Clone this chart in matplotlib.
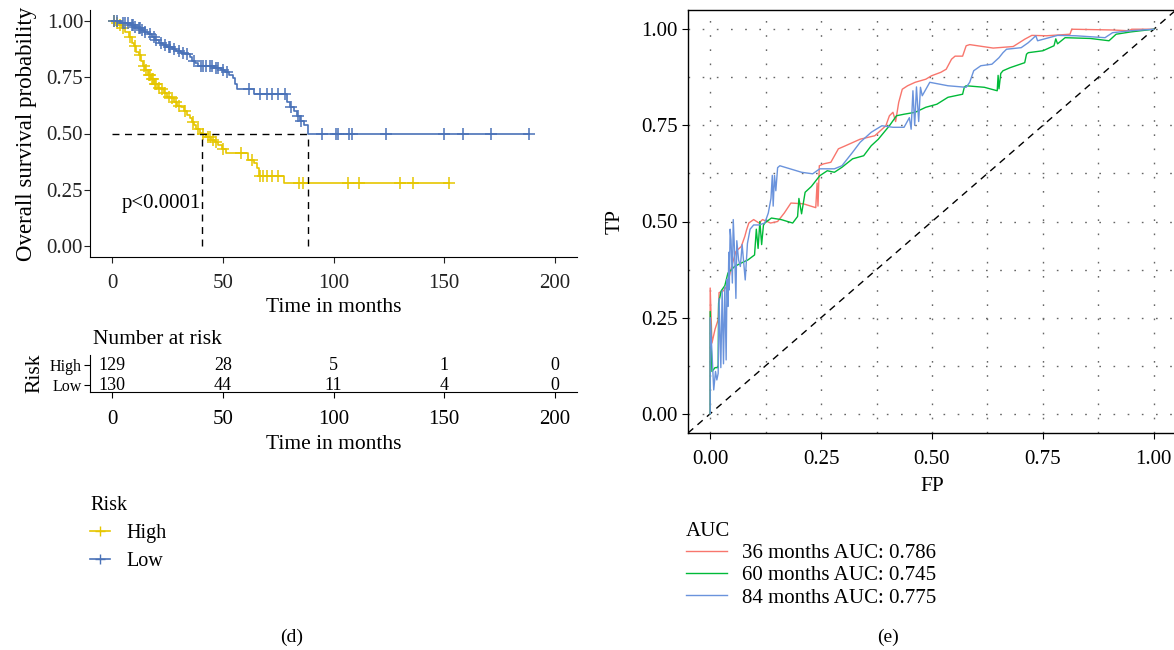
import numpy as np
import matplotlib
matplotlib.use('Agg')
import matplotlib.pyplot as plt
from matplotlib.lines import Line2D

plt.rcParams['font.family'] = ['Liberation Serif', 'DejaVu Serif']
plt.rcParams['font.size'] = 15

# Kaplan-Meier steps (months, survival) for each risk group
high_time = [0, 1.5, 3, 4.5, 6, 7.5, 9, 10, 11, 12, 13, 14, 15, 16, 17.5, 19, 20.5, 22, 23.5, 25,
             26.5, 28, 29.5, 31, 32.5, 34, 35, 36, 37, 38, 39.5, 40.5, 42.5, 44.5, 46.5, 48, 49.5,
             51.5, 61.5, 64, 65.5, 66.5, 77.5]
high_surv = [1.0, 0.992, 0.984, 0.968, 0.952, 0.928, 0.904, 0.888, 0.864, 0.848, 0.824, 0.800, 0.784,
             0.760, 0.744, 0.720, 0.704, 0.696, 0.680, 0.664, 0.656, 0.640, 0.624, 0.616, 0.600, 0.584,
             0.568, 0.552, 0.536, 0.520, 0.504, 0.496, 0.484, 0.472, 0.460, 0.448, 0.432, 0.412, 0.384,
             0.368, 0.345, 0.310, 0.278]
high_censor = [1, 2, 3.5, 5, 8, 10.5, 12.5, 14.5, 15.5, 16.5, 17, 18, 18.5, 19.5, 20, 21, 22.5, 24,
               25.5, 27, 29, 30, 33, 36.5, 39, 41, 43.5, 44, 45.5, 47, 50, 58, 63, 67, 68, 70, 72, 75,
               84.5, 86, 106.5, 111.5, 130, 136, 152]

low_time = [0, 4, 8.5, 10, 11.5, 13, 14.5, 16, 18, 19.5, 21, 23, 25, 27, 29, 31, 33, 35, 36, 37.5,
            39, 46, 49, 51, 53, 54.8, 55.6, 56.4, 64, 79, 80.5, 82, 83.5, 85, 86.5, 88.3]
low_surv = [1.0, 0.992, 0.984, 0.976, 0.968, 0.96, 0.952, 0.944, 0.928, 0.916, 0.904, 0.892, 0.884,
            0.876, 0.868, 0.860, 0.852, 0.840, 0.824, 0.812, 0.800, 0.792, 0.782, 0.772, 0.762, 0.748,
            0.722, 0.700, 0.678, 0.640, 0.620, 0.600, 0.580, 0.556, 0.537, 0.500]
low_censor = [1, 2, 5, 6, 7, 9, 9.5, 10.5, 12, 12.5, 13.5, 15, 17, 19, 20, 22, 24, 25.5, 26, 28, 30,
              32, 34, 37, 40, 41, 42.5, 44, 45, 47, 48, 50, 52, 62, 67, 70, 72, 75, 78, 81, 84, 85.5,
              95, 101, 102, 107, 108.5, 123.5, 150, 158.5, 171, 188.5]

median_high = 40.5
median_low = 88.3
pval_text = 'p<0.0001'

risk_ticks = [0, 50, 100, 150, 200]
at_risk_high = [129, 28, 5, 1, 0]
at_risk_low = [130, 44, 11, 4, 0]

# time-dependent ROC curves
roc36_fp = [0, 0, .004, .011, .018, .02, .03, .036, .043, .05, .058, .07, .078, .082, .087, .098, .11,
            .118, .136, .152, .167, .182, .21, .238, .241, .243, .246, .256, .272, .289, .305, .338,
            .371, .396, .404, .412, .418, .425, .433, .445, .462, .486, .499, .52, .532, .544, .552,
            .569, .577, .585, .638, .683, .709, .725, .758, .811, .815, .907, .944, .95, 1.0]
roc36_tp = [0, .327, .184, .22, .245, .315, .32, .33, .357, .39, .422, .435, .461, .478, .496, .505,
            .496, .505, .496, .50, .522, .548, .546, .536, .60, .54, .645, .65, .654, .689, .697, .714,
            .723, .749, .775, .784, .76, .81, .844, .853, .862, .87, .879, .888, .896, .922, .93, .93,
            .957, .96, .951, .955, .974, .984, .983, .987, 1.0, .998, .996, 1.0, 1.0]

roc60_fp = [0, 0, .004, .011, .018, .019, .025, .033, .04, .055, .07, .085, .1, .104, .108, .112, .116,
            .12, .123, .138, .16, .186, .197, .2, .206, .214, .228, .247, .264, .28, .297, .321, .346,
            .363, .379, .404, .42, .437, .462, .486, .511, .536, .569, .573, .577, .618, .647, .649,
            .651, .655, .66, .676, .709, .713, .717, .75, .775, .779, .783, .8, .857, .899, .915, .948,
            1.0]
roc60_tp = [0, .266, .11, .12, .12, .288, .32, .333, .366, .383, .392, .40, .413, .48, .43, .50, .44,
            .49, .496, .509, .505, .496, .513, .56, .52, .576, .591, .619, .632, .628, .641, .663, .671,
            .697, .714, .749, .775, .779, .784, .797, .805, .823, .831, .85, .853, .849, .84, .88, .845,
            .885, .892, .90, .913, .935, .939, .944, .957, .975, .962, .978, .976, .97, .987, .993, 1.0]

roc84_fp = [0, 0, .004, .008, .012, .015, .018, .02, .024, .027, .03, .033, .036, .038, .04, .042,
            .043, .045, .047, .05, .052, .055, .058, .06, .064, .068, .072, .079, .084, .09, .098, .11,
            .123, .131, .137, .14, .142, .145, .148, .152, .157, .206, .231, .247, .28, .297, .321,
            .338, .363, .387, .412, .437, .449, .453, .457, .461, .465, .47, .474, .478, .495, .536,
            .577, .585, .594, .61, .635, .651, .66, .668, .701, .717, .734, .738, .783, .824, .89, .907,
            .948, 1.0]
roc84_tp = [0, .25, .16, .062, .11, .088, .105, .30, .12, .32, .13, .33, .14, .35, .279, .42, .322, .48,
            .452, .34, .505, .42, .30, .45, .40, .383, .44, .348, .443, .48, .491, .491, .496, .522,
            .56, .62, .54, .62, .58, .64, .645, .628, .624, .637, .637, .645, .68, .706, .732, .749,
            .745, .745, .77, .74, .84, .75, .85, .76, .849, .827, .862, .853, .849, .862, .892, .905,
            .909, .926, .939, .948, .952, .965, .983, .97, .984, .983, .978, .991, .996, 1.0]

roc_labels = ['36 months AUC: 0.786', '60 months AUC: 0.745', '84 months AUC: 0.775']
roc_colors = ['#F8766D', '#00BA38', '#6A93DC']
km_colors = ['#E6C600', '#4A72B8']


def km_curve(ax, times, surv, censor, color):
    times = list(times) + [max(censor)]
    surv = list(surv) + [surv[-1]]
    ax.step(times, surv, where='post', color=color, lw=1.2)
    idx = np.searchsorted(times, censor, side='right') - 1
    ax.plot(censor, np.array(surv)[idx], ls='none', marker='+', ms=8, mew=1.1, color=color)


fig = plt.figure(figsize=(11.74, 6.5), dpi=100)

# survival curves
ax = fig.add_axes([90 / 1174, 1 - 257 / 650, 487 / 1174, 247 / 650])
km_curve(ax, high_time, high_surv, high_censor, km_colors[0])
km_curve(ax, low_time, low_surv, low_censor, km_colors[1])
ax.plot([0, median_low], [0.5, 0.5], color='black', ls='--', lw=1, dashes=(5, 4))
ax.plot([median_high, median_high], [0, 0.5], color='black', ls='--', lw=1, dashes=(5, 4))
ax.plot([median_low, median_low], [0, 0.5], color='black', ls='--', lw=1, dashes=(5, 4))
ax.text(4.5, 0.19, pval_text, ha='left', va='center', fontsize=15)
ax.set_xlim(-10, 210)
ax.set_ylim(-0.05, 1.05)
ax.set_xticks(risk_ticks)
ax.set_yticks([0, 0.25, 0.5, 0.75, 1.0])
ax.set_yticklabels(['0.00', '0.25', '0.50', '0.75', '1.00'])
ax.set_xlabel('Time in months', fontsize=15.5, labelpad=4)
ax.set_ylabel('Overall survival probability', fontsize=16.5, labelpad=7)
for s in ['top', 'right']:
    ax.spines[s].set_visible(False)
ax.tick_params(direction='out', length=4, width=0.8, labelsize=15, colors='#222222')
ax.tick_params(axis='x', pad=8)
ax.tick_params(axis='y', pad=1)

# number at risk table
tab = fig.add_axes([90 / 1174, 1 - 392 / 650, 487 / 1174, 37 / 650])
for x, n1, n2 in zip(risk_ticks, at_risk_high, at_risk_low):
    tab.text(x, 2, str(n1), ha='center', va='center', fontsize=13)
    tab.text(x, 1, str(n2), ha='center', va='center', fontsize=13)
tab.set_xlim(-10, 210)
tab.set_ylim(0.65, 2.5)
tab.set_xticks(risk_ticks)
tab.set_yticks([2, 1])
tab.set_yticklabels(['High', 'Low'])
tab.set_xlabel('Time in months', fontsize=15.5, labelpad=4)
tab.set_ylabel('Risk', fontsize=15.5, labelpad=4)
for s in ['top', 'right']:
    tab.spines[s].set_visible(False)
tab.tick_params(direction='out', length=4, width=0.8, labelsize=15)
tab.tick_params(axis='x', pad=9)
tab.tick_params(axis='y', labelsize=11.5, pad=2)
fig.text(93 / 1174, 1 - 339 / 650, 'Number at risk', ha='left', va='center', fontsize=15.5)

km_handles = [Line2D([], [], color=km_colors[0], marker='+', ms=7, lw=1.2),
              Line2D([], [], color=km_colors[1], marker='+', ms=7, lw=1.2)]
fig.legend(km_handles, ['High', 'Low'], title='Risk', loc='upper left',
           bbox_to_anchor=(72 / 1174, 1 - 478 / 650), frameon=False, fontsize=14.5,
           title_fontsize=14.5, handlelength=1.0, handletextpad=0.8, labelspacing=0.45,
           alignment='left')

# ROC panel
ax2 = fig.add_axes([688 / 1174, 1 - 433 / 650, 488 / 1174, 423 / 650])
ax2.set_xlim(-0.05, 1.05)
ax2.set_ylim(-0.05, 1.05)
ticks = [0, 0.25, 0.5, 0.75, 1.0]
ax2.set_xticks(ticks)
ax2.set_yticks(ticks)
ax2.set_xticks([0.125, 0.375, 0.625, 0.875], minor=True)
ax2.set_yticks([0.125, 0.375, 0.625, 0.875], minor=True)
ax2.set_xticklabels(['0.00', '0.25', '0.50', '0.75', '1.00'])
ax2.set_yticklabels(['0.00', '0.25', '0.50', '0.75', '1.00'])
ax2.grid(which='both', color='#666666', lw=1.0, ls=(0, (1.2, 9)))
ax2.tick_params(which='minor', length=0)
ax2.tick_params(which='major', direction='out', length=4, width=0.8, labelsize=15)
ax2.tick_params(axis='x', pad=8)
ax2.axline((0, 0), slope=1, color='black', lw=1, ls='--', dashes=(5, 4))
for fp, tp, c, lab in zip([roc36_fp, roc60_fp, roc84_fp], [roc36_tp, roc60_tp, roc84_tp],
                          roc_colors, roc_labels):
    ax2.plot(fp, tp, color=c, lw=1.0, label=lab)
ax2.set_xlabel('FP', fontsize=15.5, labelpad=6)
ax2.set_ylabel('TP', fontsize=15.5, labelpad=12)
for s in ax2.spines.values():
    s.set_linewidth(1.0)
ax2.set_axisbelow(True)

h, l = ax2.get_legend_handles_labels()
fig.legend(h, l, title='AUC', loc='upper left', bbox_to_anchor=(667 / 1174, 1 - 503 / 650),
           frameon=False, fontsize=15, title_fontsize=15, handlelength=2.0, handletextpad=0.7,
           labelspacing=0.13, alignment='left')

fig.text(292 / 1174, 1 - 637 / 650, '(d)', ha='center', va='center', fontsize=14)
fig.text(888 / 1174, 1 - 637 / 650, '(e)', ha='center', va='center', fontsize=14)

plt.savefig('out.png', dpi=100)
